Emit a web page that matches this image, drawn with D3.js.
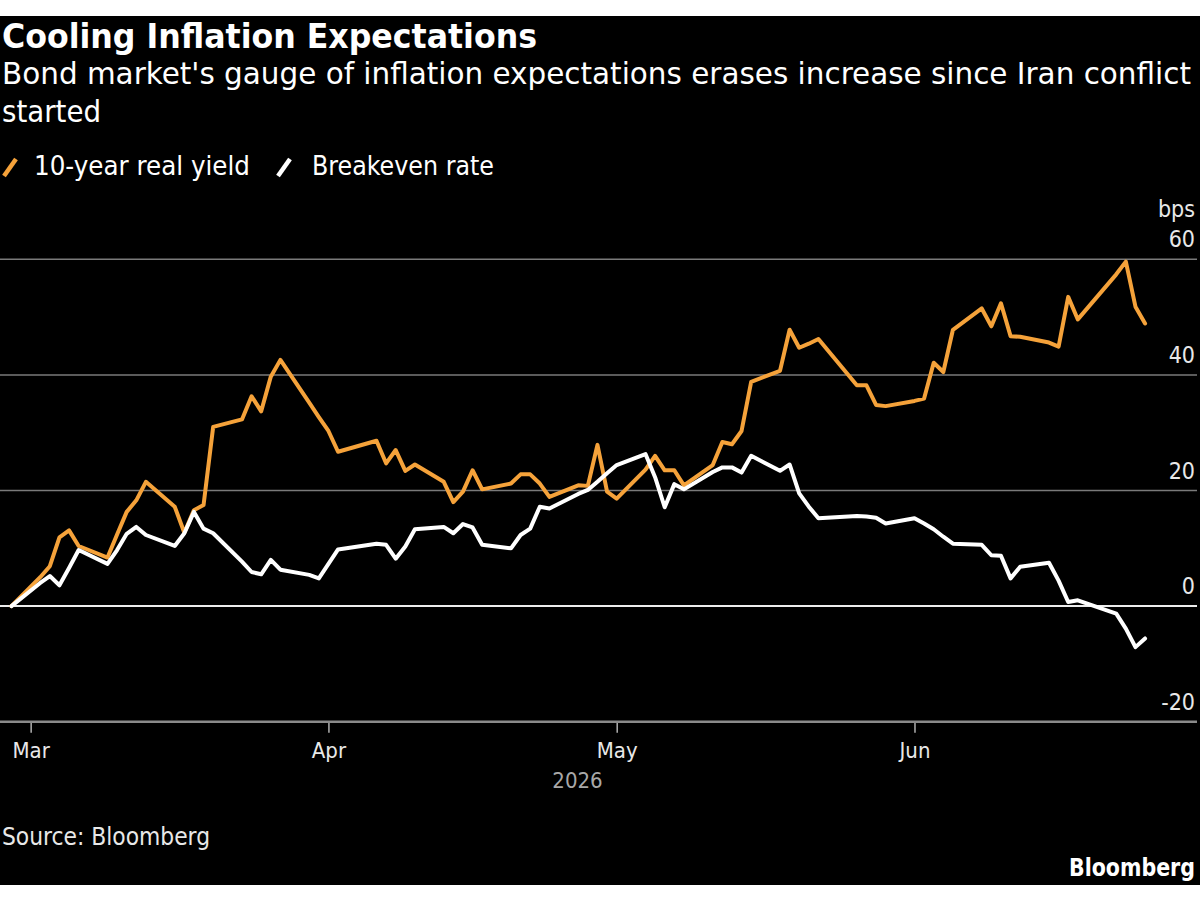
<!DOCTYPE html>
<html><head><meta charset="utf-8">
<script src="https://cdn.jsdelivr.net/npm/d3@7"></script>
<style>
html,body{margin:0;padding:0;background:#fff;}
svg{display:block;}
</style></head>
<body>
<svg id="chart" width="1200" height="900"></svg>
<script>
// ---------- data ----------
const dates = [
 "2026-02-27","2026-03-02","2026-03-03","2026-03-04","2026-03-05","2026-03-06",
 "2026-03-09","2026-03-10","2026-03-11","2026-03-12","2026-03-13",
 "2026-03-16","2026-03-17","2026-03-18","2026-03-19","2026-03-20",
 "2026-03-23","2026-03-24","2026-03-25","2026-03-26","2026-03-27",
 "2026-03-30","2026-03-31","2026-04-01","2026-04-02",
 "2026-04-06","2026-04-07","2026-04-08","2026-04-09","2026-04-10",
 "2026-04-13","2026-04-14","2026-04-15","2026-04-16","2026-04-17",
 "2026-04-20","2026-04-21","2026-04-22","2026-04-23","2026-04-24",
 "2026-04-27","2026-04-28","2026-04-29","2026-04-30","2026-05-01",
 "2026-05-04","2026-05-05","2026-05-06","2026-05-07","2026-05-08",
 "2026-05-11","2026-05-12","2026-05-13","2026-05-14","2026-05-15",
 "2026-05-18","2026-05-19","2026-05-20","2026-05-21","2026-05-22",
 "2026-05-26","2026-05-27","2026-05-28","2026-05-29",
 "2026-06-01","2026-06-02","2026-06-03","2026-06-04","2026-06-05",
 "2026-06-08","2026-06-09","2026-06-10","2026-06-11","2026-06-12",
 "2026-06-15","2026-06-16","2026-06-17","2026-06-18",
 "2026-06-22","2026-06-23","2026-06-24","2026-06-25"
];
const realYield = [
 0, 5.0, 6.9, 11.9, 13.1, 10.4,
 8.4, 12.4, 16.3, 18.3, 21.5,
 17.2, 12.7, 16.6, 17.5, 31.0,
 32.3, 36.3, 33.7, 39.7, 42.6,
 35.2, 32.7, 30.3, 26.7,
 28.6, 24.7, 27.0, 23.4, 24.5,
 21.5, 18.0, 19.8, 23.5, 20.2,
 21.2, 22.8, 22.8, 21.2, 18.9,
 20.9, 20.8, 27.9, 19.8, 18.6,
 23.6, 26.0, 23.5, 23.5, 20.9,
 24.4, 28.4, 28.0, 30.3, 38.8,
 40.7, 47.8, 44.7, 45.4, 46.2,
 38.2, 38.2, 34.8, 34.6,
 35.5, 35.9, 42.1, 40.5, 47.8,
 51.5, 48.4, 52.4, 46.7, 46.6,
 45.6, 44.9, 53.5, 49.6,
 57.4, 59.6, 51.8, 48.9
];
const breakeven = [
 0, 4.0, 5.2, 3.6, 6.6, 9.7,
 7.3, 9.7, 12.5, 13.7, 12.3,
 10.4, 12.6, 16.3, 13.4, 12.6,
 7.7, 5.9, 5.5, 8.0, 6.3,
 5.4, 4.8, 7.3, 9.8,
 10.8, 10.6, 8.2, 10.3, 13.3,
 13.7, 12.6, 14.2, 13.6, 10.6,
 10.0, 12.3, 13.4, 17.2, 16.9,
 19.4, 20.1, 21.5, 23.0, 24.4,
 26.3, 22.3, 17.1, 21.1, 20.2,
 23.2, 24.0, 24.0, 23.1, 26.0,
 23.4, 24.5, 19.5, 17.2, 15.2,
 15.6, 15.5, 15.3, 14.3,
 15.2, 14.3, 13.3, 12.0, 10.8,
 10.6, 8.8, 8.7, 4.8, 6.8,
 7.5, 4.4, 0.7, 1.0,
 -1.3, -3.9, -7.1, -5.6
];
const yTicks = [-20, 0, 20, 40, 60];
const xDomain = ["2026-02-26", "2026-06-30"];
const seriesNames = ["10-year real yield", "Breakeven rate"];
const seriesColors = ["#f5a23a", "#ffffff"];
const titleText = "Cooling Inflation Expectations";
const subtitleLines = ["Bond market's gauge of inflation expectations erases increase since Iran conflict", "started"];
const yUnit = "bps";
const yearLabel = "2026";
const sourceText = "Source: Bloomberg";
const brandText = "Bloomberg";

// ---------- drawing ----------
const FONT = "'Liberation Sans Narrow','DejaVu Sans Condensed','Liberation Sans',Arial,sans-serif";
const parse = d3.utcParse("%Y-%m-%d");
const svg = d3.select("#chart");

svg.append("rect").attr("x", 0).attr("y", 16).attr("width", 1200).attr("height", 869).attr("fill", "#000");

const x = d3.scaleUtc().domain(xDomain.map(parse)).range([1.8, 1193.1]);
const y = d3.scaleLinear().domain([-20, 60]).range([721.7, 259.3]);

// titles
svg.append("text").attr("x", 2).attr("y", 48).text(titleText)
  .attr("font-family", FONT).attr("font-weight", "bold").attr("font-size", 33)
  .attr("fill", "#fff").attr("textLength", 535).attr("lengthAdjust", "spacingAndGlyphs");
svg.append("text").attr("x", 2).attr("y", 84).text(subtitleLines[0])
  .attr("font-family", FONT).attr("font-size", 31).attr("fill", "#fff")
  .attr("textLength", 1189).attr("lengthAdjust", "spacingAndGlyphs");
svg.append("text").attr("x", 2).attr("y", 122).text(subtitleLines[1])
  .attr("font-family", FONT).attr("font-size", 31).attr("fill", "#fff")
  .attr("textLength", 99).attr("lengthAdjust", "spacingAndGlyphs");

// legend
const legendItems = [
  {slashX: 4, textX: 34, len: 216},
  {slashX: 278, textX: 312, len: 182}
];
legendItems.forEach((it, i) => {
  svg.append("line").attr("x1", it.slashX).attr("y1", 176).attr("x2", it.slashX + 12).attr("y2", 159)
    .attr("stroke", seriesColors[i]).attr("stroke-width", 4.5);
  svg.append("text").attr("x", it.textX).attr("y", 175).text(seriesNames[i])
    .attr("font-family", FONT).attr("font-size", 26).attr("fill", "#fff")
    .attr("textLength", it.len).attr("lengthAdjust", "spacingAndGlyphs");
});

// gridlines
yTicks.forEach(t => {
  if (t === -20) return;
  svg.append("line").attr("x1", 0).attr("x2", 1197).attr("y1", y(t)).attr("y2", y(t))
    .attr("stroke", t === 0 ? "#ececec" : "#7a7a7a").attr("stroke-width", t === 0 ? 2 : 1.5);
});

// y labels
yTicks.forEach(t => {
  svg.append("text").attr("x", 1195).attr("y", y(t) - 12).attr("text-anchor", "end")
    .text(t).attr("font-family", FONT).attr("font-size", 23).attr("fill", "#e8e8e8");
});
svg.append("text").attr("x", 1195).attr("y", 217).attr("text-anchor", "end")
  .text(yUnit).attr("font-family", FONT).attr("font-size", 23).attr("fill", "#e8e8e8");

// x axis
const xAxis = d3.axisBottom(x).ticks(d3.utcMonth.every(1)).tickFormat(d3.utcFormat("%b")).tickSize(11).tickPadding(10);
const gx = svg.append("g").attr("transform", `translate(0,${y(-20)})`).call(xAxis);
gx.select(".domain").remove();
gx.selectAll(".tick line").attr("stroke", "#dcdcdc").attr("stroke-width", 1.2);
gx.selectAll(".tick text").attr("font-family", FONT).attr("font-size", 22).attr("fill", "#e8e8e8");
svg.append("line").attr("x1", 0).attr("x2", 1197).attr("y1", y(-20)).attr("y2", y(-20))
  .attr("stroke", "#8a8a8a").attr("stroke-width", 2.5);
svg.append("text").attr("x", 577.5).attr("y", 788).attr("text-anchor", "middle").text(yearLabel)
  .attr("font-family", FONT).attr("font-size", 22).attr("fill", "#a8a8a8");

// lines
const parsed = dates.map(parse);
const line = d3.line().x(d => x(d[0])).y(d => y(d[1]));
[realYield, breakeven].forEach((vals, i) => {
  svg.append("path").datum(parsed.map((d, j) => [d, vals[j]]))
    .attr("d", line).attr("fill", "none").attr("stroke", seriesColors[i])
    .attr("stroke-width", 4).attr("stroke-linejoin", "round").attr("stroke-linecap", "round");
});

// footer
svg.append("text").attr("x", 2).attr("y", 845).text(sourceText)
  .attr("font-family", FONT).attr("font-size", 24).attr("fill", "#e8e8e8")
  .attr("textLength", 208).attr("lengthAdjust", "spacingAndGlyphs");
svg.append("text").attr("x", 1195).attr("y", 876).attr("text-anchor", "end").text(brandText)
  .attr("font-family", FONT).attr("font-weight", "bold").attr("font-size", 24).attr("fill", "#fff")
  .attr("textLength", 126).attr("lengthAdjust", "spacingAndGlyphs");
</script>
</body></html>
